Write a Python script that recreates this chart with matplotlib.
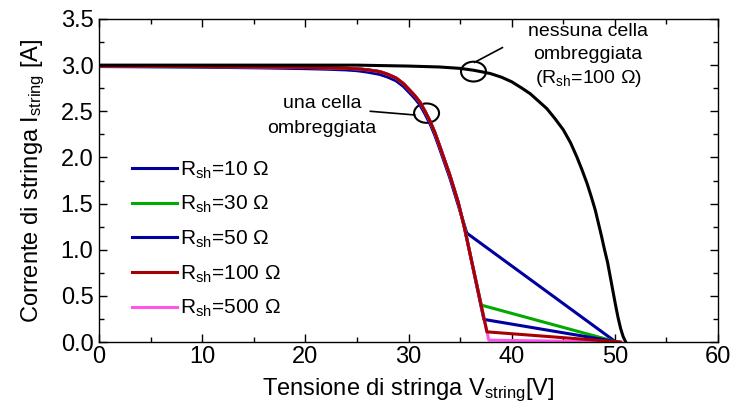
import matplotlib
matplotlib.use("Agg")
import matplotlib.pyplot as plt
from matplotlib.patches import Ellipse
from matplotlib.ticker import MultipleLocator, FormatStrFormatter

plt.rcParams['font.family'] = ['Liberation Sans', 'DejaVu Sans']
plt.rcParams['mathtext.fontset'] = 'custom'
plt.rcParams['mathtext.rm'] = 'Liberation Sans'
plt.rcParams['mathtext.it'] = 'Liberation Sans'

# ---- data ----
# unshaded string (Rsh = 100 ohm)
v_none = [0, 10, 20, 25, 30, 33, 35, 36.3, 37.9, 39.0, 40.0, 41.0, 41.8, 42.6, 43.4, 44.2,
          45.0, 45.7, 46.3, 46.8, 47.3, 47.7, 48.1, 48.4, 48.7, 49.0, 49.3, 49.55, 49.8,
          50.05, 50.3, 50.55, 50.8, 51.05]
i_none = [3.00, 3.00, 3.00, 3.00, 2.99, 2.98, 2.965, 2.945, 2.91, 2.87, 2.82, 2.75, 2.69, 2.61, 2.53, 2.42,
          2.30, 2.16, 2.01, 1.87, 1.72, 1.58, 1.43, 1.29, 1.15, 1.00, 0.86, 0.71, 0.56,
          0.41, 0.27, 0.15, 0.06, 0.0]

# one shaded cell: common knee (Rsh >= 30)
v_knee = [0, 10, 16, 20, 22.4, 24, 25, 26, 27.2, 28, 28.8, 29.5, 30.1, 30.6, 31.1, 31.6,
          32.1, 32.55, 33.0, 33.5, 34.0, 34.4, 34.8, 35.4]
i_knee = [2.99, 2.985, 2.98, 2.975, 2.97, 2.965, 2.96, 2.95, 2.93, 2.90, 2.86, 2.80, 2.73, 2.67, 2.60, 2.50,
          2.39, 2.27, 2.13, 1.97, 1.81, 1.665, 1.52, 1.25]

# Rsh = 10 ohm (knee slightly lower)
v_r10 = [0, 10, 16, 20, 22.4, 24, 25, 26, 27.2, 28, 28.8, 29.5, 30.1, 30.6, 31.1, 31.6,
         32.1, 32.55, 33.0, 33.5, 34.0, 34.4, 34.8, 35.65, 50.1]
i_r10 = [2.985, 2.978, 2.97, 2.962, 2.955, 2.948, 2.94, 2.925, 2.90, 2.87, 2.83, 2.77, 2.70, 2.64, 2.57, 2.47,
         2.36, 2.24, 2.10, 1.94, 1.78, 1.635, 1.49, 1.18, 0.0]

# tails after the knee for other Rsh
v_tail_r30 = [37.05, 50.2]
i_tail_r30 = [0.40, 0.0]
v_tail_r50 = [37.3, 50.3]
i_tail_r50 = [0.245, 0.0]
v_tail_r100 = [37.6, 50.5]
i_tail_r100 = [0.11, 0.0]
v_tail_r500 = [37.78, 50.6]
i_tail_r500 = [0.02, 0.0]

labels = [r'R$_{\mathregular{sh}}$=10 Ω', r'R$_{\mathregular{sh}}$=30 Ω', r'R$_{\mathregular{sh}}$=50 Ω',
          r'R$_{\mathregular{sh}}$=100 Ω', r'R$_{\mathregular{sh}}$=500 Ω']
colors = ['#0000A0', '#00AA00', '#0000A0', '#A80000', '#FF55EE']

fig = plt.figure(figsize=(7.46, 4.13), dpi=100)
ax = fig.add_axes([0.1327, 0.1719, 0.9625 - 0.1327, 0.954 - 0.1719])

lw = 2.2
h10, = ax.plot(v_r10, i_r10, color=colors[0], lw=lw, label=labels[0])
h30, = ax.plot(v_knee + v_tail_r30, i_knee + i_tail_r30, color=colors[1], lw=lw, label=labels[1])
h50, = ax.plot(v_knee + v_tail_r50, i_knee + i_tail_r50, color=colors[2], lw=lw, label=labels[2])
h500, = ax.plot(v_knee + v_tail_r500, i_knee + i_tail_r500, color=colors[4], lw=lw, label=labels[4])
h100, = ax.plot(v_knee + v_tail_r100, i_knee + i_tail_r100, color=colors[3], lw=lw, label=labels[3])
ax.plot(v_none, i_none, color='black', lw=lw)

ax.set_xlim(0, 60)
ax.set_ylim(0, 3.5)
ax.xaxis.set_major_locator(MultipleLocator(10))
ax.xaxis.set_minor_locator(MultipleLocator(5))
ax.yaxis.set_major_locator(MultipleLocator(0.5))
ax.yaxis.set_minor_locator(MultipleLocator(0.25))
ax.yaxis.set_major_formatter(FormatStrFormatter('%.1f'))
ax.tick_params(which='both', direction='in', top=True, right=True, labelsize=17, width=1.0)
ax.tick_params(which='major', length=5.5)
ax.tick_params(which='minor', length=3.5)
ax.tick_params(axis='x', pad=3)
ax.tick_params(axis='y', pad=4)
for s in ax.spines.values():
    s.set_linewidth(1.0)

ax.set_xlabel(r'Tensione di stringa V$_{\mathregular{string}}$[V]', fontsize=17, labelpad=6)
ax.set_ylabel(r'Corrente di stringa I$_{\mathregular{string}}$ [A]', fontsize=17, labelpad=10)

leg = ax.legend(handles=[h10, h30, h50, h100, h500], loc='center left',
                bbox_to_anchor=(0.053, 0.318), frameon=False, fontsize=15,
                handlelength=2.16, handletextpad=0.15, labelspacing=0.64,
                borderaxespad=0, borderpad=0)

# annotations
fs_ann = 14
ax.text(47.4, 3.36, 'nessuna cella', ha='center', va='center', fontsize=fs_ann)
ax.text(47.4, 3.11, 'ombreggiata', ha='center', va='center', fontsize=fs_ann)
ax.text(47.4, 2.86, r'(R$_{\mathregular{sh}}$=100 Ω)', ha='center', va='center', fontsize=fs_ann)
ax.text(21.6, 2.58, 'una cella', ha='center', va='center', fontsize=fs_ann)
ax.text(21.6, 2.31, 'ombreggiata', ha='center', va='center', fontsize=fs_ann)

ax.add_patch(Ellipse((36.3, 2.93), 2.42, 0.215, fill=False, ec='black', lw=1.5))
ax.plot([36.4, 39.1], [3.03, 3.19], color='black', lw=1.2)
ax.add_patch(Ellipse((31.75, 2.48), 2.42, 0.21, fill=False, ec='black', lw=1.5))
ax.plot([26.3, 30.6], [2.50, 2.46], color='black', lw=1.2)

fig.savefig('out.png', dpi=100)
